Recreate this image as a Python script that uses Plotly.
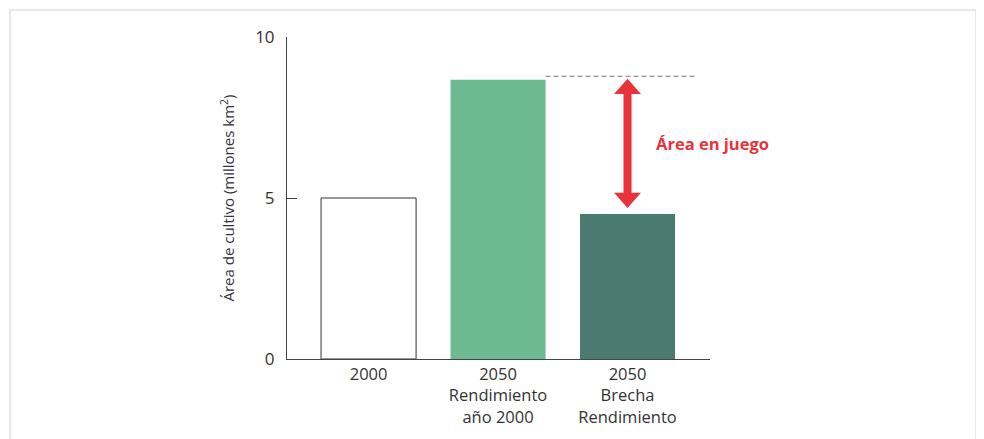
import plotly.graph_objects as go

# ---- data ----
categories = ["2000", "2050<br>Rendimiento<br>año 2000", "2050<br>Brecha<br>Rendimiento"]
values = [5.0, 8.67, 4.50]
bar_colors = ["#ffffff", "#6dba90", "#4a7a70"]
line_colors = ["#333333", "#6dba90", "#4a7a70"]
line_widths = [1, 0, 0]
reference_level = 8.78          # dashed line level
arrow_top = 8.70
arrow_bottom = 4.69
y_ticks = [0, 5, 10]
arrow_label = "Área en juego"

x_pos = list(range(len(categories)))

# ---- style constants ----
BAR_W = 0.734
RED = "#e8333a"
HEAD_H = 0.47      # y units
HEAD_HW = 0.104    # x units
SHAFT_HW = 0.031
FONT = "Open Sans"

fig = go.Figure()
fig.add_trace(go.Bar(
    x=x_pos, y=values, width=BAR_W,
    marker=dict(color=bar_colors, line=dict(color=line_colors, width=line_widths)),
    hoverinfo="skip",
))

ax = x_pos[2]
shapes = []
# dashed reference line from right edge of bar 2
shapes.append(dict(type="line", xref="x", yref="y",
                   x0=x_pos[1] + BAR_W / 2, x1=x_pos[2] + 0.537,
                   y0=reference_level, y1=reference_level,
                   line=dict(color="#7a7a7a", width=1, dash="5px,3px")))
# arrow shaft
shapes.append(dict(type="rect", xref="x", yref="y",
                   x0=ax - SHAFT_HW, x1=ax + SHAFT_HW,
                   y0=arrow_bottom + HEAD_H * 0.9, y1=arrow_top - HEAD_H * 0.9,
                   fillcolor=RED, line=dict(width=0)))
# arrow heads
top_path = (f"M {ax} {arrow_top} L {ax - HEAD_HW} {arrow_top - HEAD_H} "
            f"L {ax + HEAD_HW} {arrow_top - HEAD_H} Z")
bot_path = (f"M {ax} {arrow_bottom} L {ax - HEAD_HW} {arrow_bottom + HEAD_H} "
            f"L {ax + HEAD_HW} {arrow_bottom + HEAD_H} Z")
for p in (top_path, bot_path):
    shapes.append(dict(type="path", xref="x", yref="y", path=p,
                       fillcolor=RED, line=dict(width=0)))
# outer frame
shapes.append(dict(type="rect", xref="paper", yref="paper",
                   x0=-0.6548, x1=1.6288, y0=-0.4, y1=1.0839,
                   line=dict(color="#e8e8e8", width=2), fillcolor="rgba(0,0,0,0)",
                   layer="below"))

# page body has an 8px margin: size and margins compensate for it
fig.update_layout(
    width=976, height=431,
    margin=dict(l=279, r=274, t=29, b=80),
    paper_bgcolor="white", plot_bgcolor="white",
    showlegend=False,
    font=dict(family=FONT, color="#333333"),
    shapes=shapes,
    annotations=[dict(
        x=ax + 0.205, y=(arrow_top + arrow_bottom) / 2, xref="x", yref="y",
        text=f"<b>{arrow_label}</b>", showarrow=False, xanchor="left", yanchor="middle",
        font=dict(family=FONT, size=16.5, color=RED),
    )],
    xaxis=dict(
        range=[-0.63, 2.637], tickvals=x_pos, ticktext=categories,
        showgrid=False, zeroline=False, showline=True, linecolor="#444444", linewidth=1,
        ticks="", tickfont=dict(size=16.5, color="#333333"), fixedrange=True,
    ),
    yaxis=dict(
        range=[0, 10], tickvals=y_ticks, showgrid=False, zeroline=False,
        showline=True, linecolor="#444444", linewidth=1,
        ticks="inside", ticklen=10, tickcolor="#444444",
        tickfont=dict(size=17, color="#333333"), ticklabelstandoff=8,
        title=dict(text="Área de cultivo (millones km<sup>2</sup>)",
                   font=dict(size=15, color="#333333"), standoff=16),
    ),
)

fig.write_html("out.html")
